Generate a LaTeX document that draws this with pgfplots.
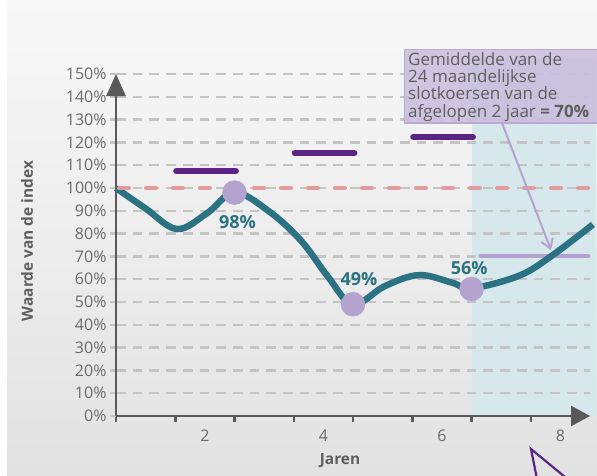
\documentclass[border=0pt]{standalone}
\usepackage{pgfplots}
\pgfplotsset{compat=1.18}
\usepackage{fontspec}
\setmainfont{Open Sans}
\usetikzlibrary{arrows.meta}
\definecolor{tealc}{HTML}{2B7283}
\definecolor{pinkc}{HTML}{E29B9C}
\definecolor{gridc}{HTML}{C4C4C4}
\definecolor{purpc}{HTML}{5B2384}
\definecolor{lavc}{HTML}{B4A3CE}
\definecolor{shadec}{HTML}{D6E8EB}
\definecolor{axisc}{HTML}{595959}
\definecolor{tickc}{HTML}{6A6A6A}
\definecolor{bgtop}{HTML}{F8F8F8}
\definecolor{bgbot}{HTML}{E2E2E2}
\definecolor{boxc}{HTML}{C9BDDD}
\definecolor{boxd}{HTML}{B9A9D3}
\definecolor{textc}{HTML}{5E5E5E}
\pgfplotsset{geom/.style={
  at={(116pt,59pt)}, anchor=south west,
  scale only axis, width=474pt, height=342pt,
  xmin=0.5, xmax=8.5, ymin=0, ymax=150, clip=false}}
\begin{document}
\begin{tikzpicture}[x=1pt,y=1pt]
\fill[white] (0,0) rectangle (597,475);
\shade[top color=bgtop,bottom color=bgbot] (7,0) rectangle (597,475);
\begin{axis}[geom, hide axis]
\addplot[draw=none, fill=shadec] coordinates {(6.5,0)(8.6,0)(8.6,157)(6.5,157)};
\end{axis}
\begin{axis}[geom,
  axis x line=bottom, axis y line=left,
  axis line style={draw=axisc, line width=2.5pt},
  x axis line style={-{Triangle[length=19pt,width=20pt]}},
  y axis line style={-{Triangle[length=22pt,width=19pt]}},
  xtick={0.5,1.5,...,7.5}, xticklabels={},
  extra x ticks={2,4,6,8}, extra x tick labels={2,4,6,8},
  extra x tick style={major tick length=0pt, xticklabel style={yshift=-10pt}},
  ytick={0,10,...,150},
  yticklabel={\pgfmathprintnumber{\tick}\%},
  tick align=outside, major tick length=6pt,
  x tick style={draw=axisc, line width=2.5pt},
  y tick style={draw=gridc, line width=2.3pt},
  ymajorgrids,
  grid style={draw=gridc, line width=2.3pt, dash pattern=on 9.7pt off 7pt},
  ticklabel style={font=\fontsize{16}{16}\selectfont, text=tickc},
  /pgf/number format/assume math mode=true,
]
\addplot[lavc, line width=4pt, line cap=round] coordinates {(6.65,70.3)(8.47,70.3)};
\addplot[tealc, line width=6.5pt, smooth, tension=0.6] coordinates {
 (0.5,100)(1.0,91)(1.53,82)(2.04,89)(2.5,98)(3.07,90)(3.62,77)(4.08,61)(4.5,49)
 (5.04,57)(5.61,61.8)(6.17,58.5)(6.5,56)(7.3,61.5)(7.84,70)(8.55,84)};
\addplot[only marks, mark=*, mark size=12pt, color=lavc] coordinates {(2.5,98)(4.5,49)(6.5,55.7)};
\addplot[pinkc, line width=4pt, dash pattern=on 10pt off 17pt, line cap=round] coordinates {(0.55,100)(8.5,100)};
\addplot[purpc, line width=6.5pt, line cap=round] coordinates {(1.52,107.5)(2.52,107.5)};
\addplot[purpc, line width=6.5pt, line cap=round] coordinates {(3.52,115.3)(4.52,115.3)};
\addplot[purpc, line width=6.5pt, line cap=round] coordinates {(5.52,122.4)(6.52,122.4)};
\node[text=tealc, font=\fontsize{18}{18}\selectfont\bfseries] at (axis cs:2.55,85) {98\%};
\node[text=tealc, font=\fontsize{18}{18}\selectfont\bfseries] at (axis cs:4.6,60) {49\%};
\node[text=tealc, font=\fontsize{18}{18}\selectfont\bfseries] at (axis cs:6.46,65) {56\%};
\end{axis}
% annotation box
\fill[boxc, opacity=0.85] (404,352) rectangle (597,425);
\draw[boxd, line width=1pt] (597,425) -- (404,425) -- (404,352) -- (597,352);
\node[anchor=north west, align=left, text=textc, inner sep=0pt,
  font=\fontsize{17}{17.4}\selectfont] at (408,423)
  {Gemiddelde van de\\24 maandelijkse\\slotkoersen van de\\afgelopen 2 jaar \textbf{= 70\%}};
\draw[lavc, line width=2pt, -{Straight Barb[length=9pt,width=12pt]}] (502,352) -- (551,225);
% axis titles
\node[rotate=90, text=textc, font=\fontsize{15.4}{15.4}\selectfont\bfseries] at (27,234) {Waarde van de index};
\node[text=textc, font=\fontsize{15.4}{15.4}\selectfont\bfseries] at (340,14) {Jaren};
% cursor
\begin{scope}
\clip (0,0) rectangle (597,475);
\draw[purpc, line width=2.2pt, line join=miter] (537,-4) -- (531,26) -- (565,-2);
\end{scope}
\pgfresetboundingbox
\path[use as bounding box] (0,0) rectangle (597,475);
\end{tikzpicture}
\end{document}
